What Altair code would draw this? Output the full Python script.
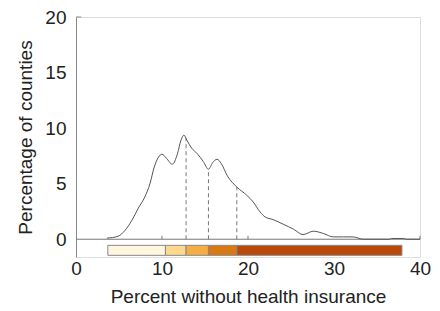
import altair as alt
import pandas as pd

# density curve
curve_x = [3.6, 4.9, 5.7, 6.5, 7.25, 8.0, 8.6, 9.1, 9.6, 10.0, 10.5, 11.2, 11.8, 12.2,
           12.55, 12.9, 13.45, 14.1, 14.8, 15.4, 15.9, 16.4, 16.9, 17.6, 18.7, 19.85,
           20.6, 21.4, 22.0, 22.9, 24.1, 25.3, 26.4, 27.6, 28.8, 29.9, 31.1, 32.2,
           33.4, 36.4, 36.7, 38.1, 38.4, 40.0]
curve_y = [0.1, 0.27, 0.8, 1.7, 2.8, 3.8, 5.0, 6.5, 7.4, 7.65, 7.3, 6.75, 7.7, 8.9,
           9.37, 8.9, 8.2, 7.7, 7.0, 6.3, 6.9, 7.2, 6.8, 5.7, 4.7, 3.96,
           3.36, 2.46, 2.0, 1.77, 1.35, 0.9, 0.42, 0.72, 0.51, 0.21, 0.21, 0.21,
           0.0, 0.0, 0.07, 0.07, 0.0, 0.0]

# class breaks (dashed lines)
break_x = [12.8, 15.4, 18.7]
break_top = [9.1, 6.3, 4.7]

# colour bar segments
seg_start = [3.7, 10.4, 12.8, 15.4, 18.7]
seg_end = [10.4, 12.8, 15.4, 18.7, 37.9]
seg_color = ["#FFF6E0", "#FDD98F", "#F5AE45", "#D97913", "#B8490A"]

x_ticks = [0, 10, 20, 30, 40]
y_ticks = [0, 5, 10, 15, 20]

curve_df = pd.DataFrame({"x": curve_x, "y": curve_y})
break_df = pd.DataFrame({"x": break_x, "top": break_top, "base": [0.0] * 3})
seg_df = pd.DataFrame({"x": seg_start, "x2": seg_end, "c": seg_color,
                       "y": [-0.55] * 5, "y2": [-1.45] * 5})
base_df = pd.DataFrame({"x": [0.0], "x2": [40.0], "y": [0.0]})
tick_df = pd.DataFrame({"x": [10.0, 20.0, 40.0], "y": [0.0] * 3, "y2": [0.3] * 3})
ytick_df = pd.DataFrame({"x": [0.0], "x2": [0.6], "y": [20.0]})

FONT = "Liberation Sans"

xscale = alt.Scale(domain=[0, 40], nice=False, zero=False)
yscale = alt.Scale(domain=[-1.6, 20], nice=False, zero=False)

xaxis = alt.Axis(values=x_ticks, domain=False, ticks=False, grid=False,
                 labelFlush=False,
                 labelFontSize=19, labelPadding=2, labelColor="#222",
                 title="Percent without health insurance", titleFontSize=19,
                 titleFontWeight="normal", titleColor="#222", titlePadding=9,
                 labelFont=FONT, titleFont=FONT)
yaxis = alt.Axis(values=y_ticks, domain=True, domainColor="#888", ticks=False,
                 labelFlush=False,
                 grid=False, labelFontSize=19, labelPadding=10, labelColor="#222",
                 title="Percentage of counties", titleFontSize=19,
                 titleFontWeight="normal", titleColor="#222", titlePadding=9,
                 labelFont=FONT, titleFont=FONT)

baseline = alt.Chart(base_df).mark_rule(color="#777", strokeWidth=1).encode(
    x=alt.X("x:Q", scale=xscale, axis=xaxis),
    x2="x2:Q",
    y=alt.Y("y:Q", scale=yscale, axis=yaxis),
)

ticks = alt.Chart(tick_df).mark_rule(color="#777", strokeWidth=1).encode(
    x=alt.X("x:Q", scale=xscale), y=alt.Y("y:Q", scale=yscale), y2="y2:Q"
)

ytick = alt.Chart(ytick_df).mark_rule(color="#888", strokeWidth=1).encode(
    x=alt.X("x:Q", scale=xscale), x2="x2:Q", y=alt.Y("y:Q", scale=yscale)
)

curve = alt.Chart(curve_df).mark_line(color="#555", strokeWidth=1,
                                      interpolate="monotone").encode(
    x=alt.X("x:Q", scale=xscale), y=alt.Y("y:Q", scale=yscale)
)

dashes = alt.Chart(break_df).mark_rule(color="#777", strokeWidth=1,
                                       strokeDash=[4, 3]).encode(
    x=alt.X("x:Q", scale=xscale), y=alt.Y("base:Q", scale=yscale), y2="top:Q"
)

bar = alt.Chart(seg_df).mark_rect(stroke="#888", strokeWidth=1).encode(
    x=alt.X("x:Q", scale=xscale), x2="x2:Q",
    y=alt.Y("y:Q", scale=yscale), y2="y2:Q",
    color=alt.Color("c:N", scale=None, legend=None),
)

chart = alt.layer(baseline, ticks, ytick, dashes, curve, bar).properties(
    width=344, height=240,
    autosize=alt.AutoSizeParams(type="none"),
    padding={"left": 68, "top": 9, "right": 12, "bottom": 50},
).configure_view(stroke=None).configure(background="white")

chart.save("out.html", embed_options={"renderer": "svg", "actions": False})
